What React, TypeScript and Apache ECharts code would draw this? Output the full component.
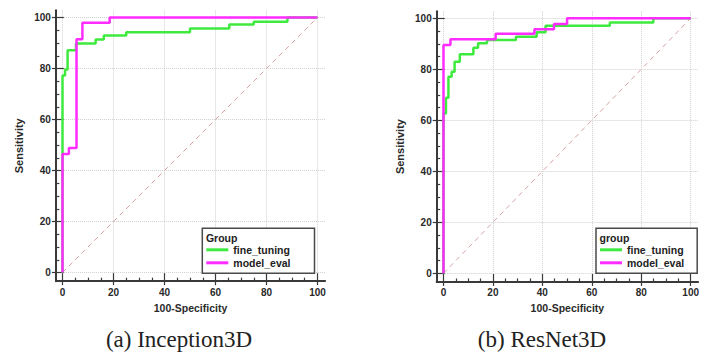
import React, { useEffect, useRef } from "react";
import * as echarts from "echarts";

// ROC operating points [100-Specificity, Sensitivity]
const inceptionFineTuning: [number, number][] = [
  [0, 0], [0, 77.3], [1, 79.6], [2, 87.2], [5.3, 89.8], [13, 91.4], [16.2, 92.9],
  [25, 94.2], [50, 95.7], [65.4, 97.3], [75, 98.3], [88.2, 100], [100, 100],
];
const inceptionModelEval: [number, number][] = [
  [0, 0], [0, 46.5], [2.5, 48.8], [5.5, 91.5], [7.8, 97.9], [18.5, 100], [100, 100],
];
const resnetFineTuning: [number, number][] = [
  [0, 0], [0, 62.7], [1, 68.8], [2, 77.1], [3.3, 79], [4.5, 83], [6.6, 85.9],
  [12.1, 88.5], [14, 90.2], [17.6, 91.5], [29.3, 92.8], [37.7, 94.5], [41.3, 97.1],
  [67.3, 98.4], [84.9, 100], [100, 100],
];
const resnetModelEval: [number, number][] = [
  [0, 0], [0, 89.5], [2.8, 91.8], [21.1, 93.9], [36.8, 95.7], [44.7, 97.8], [50, 100], [100, 100],
];
const chanceLine: [number, number][] = [[0, 0], [100, 100]];

const majorTicks = [0, 20, 40, 60, 80, 100];
const minorTicks = [5, 10, 15, 25, 30, 35, 45, 50, 55, 65, 70, 75, 85, 90, 95];
const seriesNames = ["fine_tuning", "model_eval"];
const legendTitles = ["Group", "group"];
const captions = ["(a) Inception3D", "(b) ResNet3D"];

const GREEN = "#3fea3f";
const MAGENTA = "#ff2cff";
const SANS = "'Liberation Sans', Arial, sans-serif";
const SERIF = "'Liberation Serif', 'Times New Roman', serif";

export default function App() {
  const ref = useRef<HTMLDivElement>(null);
  useEffect(() => {
    if (!ref.current) return;
    const chart = echarts.init(ref.current, null, { renderer: "svg" });

    const grids = [
      { left: 55.87, top: 10.36, width: 269.28, height: 270.81, xmin: -2.6, xmax: 103, ymin: -3.4, ymax: 102.8 },
      { left: 436.69, top: 11.16, width: 269.66, height: 270.81, xmin: -2.75, xmax: 103, ymin: -3.4, ymax: 102.8 },
    ];

    const tickLine = { color: "#3a3a3a", width: 1.2 };
    const xAxes: any[] = [];
    const yAxes: any[] = [];
    grids.forEach((g, gi) => {
      xAxes.push({
        type: "value", gridIndex: gi, position: "bottom", min: g.xmin, max: g.xmax,
        name: "100-Specificity", nameLocation: "middle", nameGap: 19,
        nameTextStyle: { fontFamily: SANS, fontWeight: "bold", fontSize: 10.5, color: "#2a2a2a" },
        axisLine: { show: true, onZero: false, lineStyle: { color: "#3a3a3a", width: 2 } },
        axisTick: { show: true, customValues: majorTicks, length: 4, lineStyle: tickLine },
        axisLabel: { show: true, customValues: majorTicks, margin: 6, fontFamily: SANS, fontWeight: "bold", fontSize: 10, color: "#2a2a2a" },
        splitLine: { show: true, lineStyle: { color: "#cfcfcf", type: "dotted", width: 1 } },
      });
      xAxes.push({
        type: "value", gridIndex: gi, position: "bottom", min: g.xmin, max: g.xmax,
        axisLine: { show: false, onZero: false }, axisLabel: { show: false }, splitLine: { show: false },
        axisTick: { show: true, inside: true, customValues: minorTicks, length: 3.5, lineStyle: tickLine },
      });
      xAxes.push({
        type: "value", gridIndex: gi, position: "bottom", min: g.xmin, max: g.xmax,
        axisLine: { show: false, onZero: false }, axisLabel: { show: false }, splitLine: { show: false },
        axisTick: { show: true, inside: true, customValues: majorTicks, length: 8, lineStyle: tickLine },
      });
      yAxes.push({
        type: "value", gridIndex: gi, position: "left", min: g.ymin, max: g.ymax,
        name: "Sensitivity", nameLocation: "middle", nameGap: 31,
        nameTextStyle: { fontFamily: SANS, fontWeight: "bold", fontSize: 11, color: "#2a2a2a" },
        axisLine: { show: true, onZero: false, lineStyle: { color: "#3a3a3a", width: 2 } },
        axisTick: { show: true, customValues: majorTicks, length: 4, lineStyle: tickLine },
        axisLabel: { show: true, customValues: majorTicks, margin: 5, fontFamily: SANS, fontWeight: "bold", fontSize: 10, color: "#2a2a2a" },
        splitLine: { show: true, lineStyle: { color: "#cfcfcf", type: "dotted", width: 1 } },
      });
      yAxes.push({
        type: "value", gridIndex: gi, position: "left", min: g.ymin, max: g.ymax,
        axisLine: { show: false, onZero: false }, axisLabel: { show: false }, splitLine: { show: false },
        axisTick: { show: true, inside: true, customValues: minorTicks, length: 3.5, lineStyle: tickLine },
      });
      yAxes.push({
        type: "value", gridIndex: gi, position: "left", min: g.ymin, max: g.ymax,
        axisLine: { show: false, onZero: false }, axisLabel: { show: false }, splitLine: { show: false },
        axisTick: { show: true, inside: true, customValues: majorTicks, length: 8, lineStyle: tickLine },
      });
    });

    const datasets = [
      [inceptionFineTuning, inceptionModelEval],
      [resnetFineTuning, resnetModelEval],
    ];
    const colors = [GREEN, MAGENTA];
    const series: any[] = [];
    datasets.forEach((pair, gi) => {
      series.push({
        type: "line", name: "chance", xAxisIndex: gi * 3, yAxisIndex: gi * 3,
        data: chanceLine, showSymbol: false, silent: true,
        lineStyle: { color: "#d6a3a3", width: 1, type: [5, 4] }, z: 1,
      });
      pair.forEach((d, si) => {
        series.push({
          type: "line", name: seriesNames[si], xAxisIndex: gi * 3, yAxisIndex: gi * 3,
          data: d, step: "end", showSymbol: false,
          itemStyle: { color: colors[si] },
          lineStyle: { color: colors[si], width: 2.5 }, z: 3 + si,
        });
      });
    });

    const legendLefts = [202.3, 596];
    const legendPad = [[15, 24, 4, 4], [15, 13, 4, 4]];
    const legends = legendLefts.map((l, i) => ({
      left: l, top: 228.3, orient: "vertical", data: seriesNames,
      icon: "rect", itemWidth: 22, itemHeight: 3, itemGap: 0,
      padding: legendPad[i], backgroundColor: "#fff",
      borderColor: "#4a4a4a", borderWidth: 1.5, borderRadius: 0,
      selectedMode: false,
      textStyle: { fontFamily: SANS, fontWeight: "bold", fontSize: 10.5, color: "#222", lineHeight: 13 },
    }));

    const graphic: any[] = [];
    legendLefts.forEach((l, i) => {
      graphic.push({
        type: "text", x: l + 3.6, y: 237.5, z: 100,
        style: { text: legendTitles[i], font: `bold 10.5px ${SANS}`, fill: "#222", verticalAlign: "middle" },
      });
    });
    const captionX = [179, 542];
    captions.forEach((c, i) => {
      graphic.push({
        type: "text", x: captionX[i], y: 339.5, z: 100,
        style: { text: c, font: `23px ${SERIF}`, fill: "#222", align: "center", verticalAlign: "middle" },
      });
    });

    chart.setOption({
      animation: false,
      backgroundColor: "#fff",
      grid: grids.map((g) => ({ left: g.left, top: g.top, width: g.width, height: g.height, containLabel: false })),
      xAxis: xAxes,
      yAxis: yAxes,
      legend: legends,
      series,
      graphic,
    });
    return () => chart.dispose();
  }, []);
  return (
    <div
      ref={ref}
      style={{ position: "fixed", left: 0, top: 0, width: 702, height: 354, background: "#fff" }}
    />
  );
}
